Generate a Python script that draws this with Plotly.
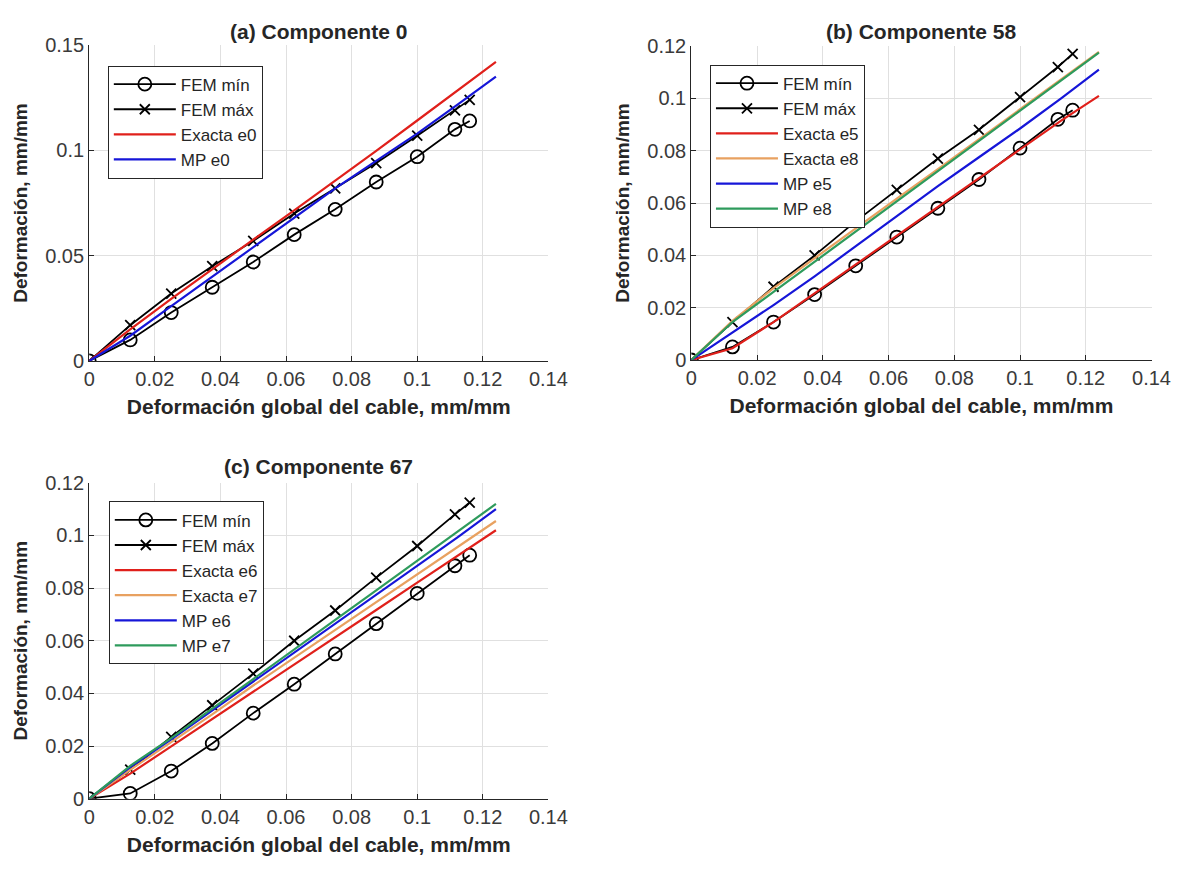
import plotly.graph_objects as go

# ---------------- data ----------------
fem_x = [0, 0.0125, 0.025, 0.0375, 0.05, 0.0625, 0.075, 0.0875, 0.1, 0.1115, 0.116]
exact_x = [0, 0.0125, 0.025, 0.0375, 0.05, 0.0625, 0.075, 0.0875, 0.1, 0.1125, 0.124]

# (a) Componente 0
a_fem_min = [0, 0.010, 0.023, 0.035, 0.047, 0.060, 0.072, 0.085, 0.097, 0.110, 0.114]
a_fem_max = [0, 0.017, 0.032, 0.045, 0.057, 0.070, 0.082, 0.094, 0.107, 0.119, 0.124]
a_exacta_e0 = [0, 0.015, 0.0295, 0.0437, 0.0576, 0.0715, 0.0855, 0.0998, 0.1142, 0.1286, 0.142]
a_mp_e0 = [0, 0.012, 0.026, 0.040, 0.054, 0.068, 0.082, 0.095, 0.108, 0.122, 0.135]

# (b) Componente 58
b_fem_min = [0, 0.005, 0.0145, 0.025, 0.036, 0.047, 0.058, 0.069, 0.081, 0.092, 0.0955]
b_fem_max = [0, 0.0145, 0.028, 0.040, 0.053, 0.065, 0.077, 0.088, 0.1005, 0.112, 0.117]
b_exacta_e5 = [0, 0.0045, 0.0145, 0.0255, 0.0365, 0.0475, 0.0585, 0.0695, 0.0805, 0.0915, 0.101]
b_exacta_e8 = [0, 0.015, 0.0275, 0.039, 0.0505, 0.0617, 0.073, 0.0845, 0.0958, 0.1072, 0.1178]
b_mp_e5 = [0, 0.0105, 0.021, 0.032, 0.0435, 0.055, 0.0665, 0.0775, 0.0885, 0.100, 0.111]
b_mp_e8 = [0, 0.0145, 0.026, 0.0376, 0.049, 0.0607, 0.0722, 0.0838, 0.0953, 0.1069, 0.1175]

# (c) Componente 67
c_fem_min = [0, 0.002, 0.0105, 0.021, 0.0325, 0.0435, 0.055, 0.0665, 0.078, 0.0885, 0.0925]
c_fem_max = [0, 0.011, 0.0235, 0.0355, 0.0475, 0.060, 0.0715, 0.084, 0.096, 0.108, 0.1125]
c_exacta_e6 = [0, 0.0095, 0.0199, 0.0302, 0.0406, 0.051, 0.0614, 0.0717, 0.0821, 0.0925, 0.102]
c_exacta_e7 = [0, 0.011, 0.0215, 0.032, 0.043, 0.0535, 0.064, 0.0745, 0.085, 0.0955, 0.1055]
c_mp_e6 = [0, 0.012, 0.0225, 0.0335, 0.0445, 0.0555, 0.0665, 0.0775, 0.0885, 0.0995, 0.110]
c_mp_e7 = [0, 0.0125, 0.023, 0.0343, 0.0455, 0.0567, 0.0679, 0.0791, 0.0903, 0.1015, 0.112]

titles = ["(a) Componente 0", "(b) Componente 58", "(c) Componente 67"]
x_title = "Deformación global del cable, mm/mm"
y_title = "Deformación, mm/mm"

# ---------------- style ----------------
FONT = "Arial, Liberation Sans, sans-serif"
RED = "#E0201B"
ORANGE = "#E8A160"
BLUE = "#1616D8"
GREEN = "#2E9B5C"
BLACK = "#000000"
W, H = 1195, 875

fig = go.Figure()


def fem(x, y, name, sym, xa, ya, leg):
    fig.add_trace(go.Scatter(
        x=x, y=y, name=name, mode="lines+markers", xaxis=xa, yaxis=ya, legend=leg,
        line=dict(color=BLACK, width=1.8),
        marker=dict(symbol=sym, size=13 if "circle" in sym else 10, color=BLACK,
                    line=dict(color=BLACK, width=1.8))))


def curve(x, y, name, color, xa, ya, leg):
    fig.add_trace(go.Scatter(
        x=x, y=y, name=name, mode="lines", xaxis=xa, yaxis=ya, legend=leg,
        line=dict(color=color, width=2.2)))


# (a)
fem(fem_x, a_fem_min, "FEM mín", "circle-open", "x", "y", "legend")
fem(fem_x, a_fem_max, "FEM máx", "x-thin-open", "x", "y", "legend")
curve(exact_x, a_exacta_e0, "Exacta e0", RED, "x", "y", "legend")
curve(exact_x, a_mp_e0, "MP e0", BLUE, "x", "y", "legend")
# (b)
fem(fem_x, b_fem_min, "FEM mín", "circle-open", "x2", "y2", "legend2")
fem(fem_x, b_fem_max, "FEM máx", "x-thin-open", "x2", "y2", "legend2")
curve(exact_x, b_exacta_e5, "Exacta e5", RED, "x2", "y2", "legend2")
curve(exact_x, b_exacta_e8, "Exacta e8", ORANGE, "x2", "y2", "legend2")
curve(exact_x, b_mp_e5, "MP e5", BLUE, "x2", "y2", "legend2")
curve(exact_x, b_mp_e8, "MP e8", GREEN, "x2", "y2", "legend2")
# (c)
fem(fem_x, c_fem_min, "FEM mín", "circle-open", "x3", "y3", "legend3")
fem(fem_x, c_fem_max, "FEM máx", "x-thin-open", "x3", "y3", "legend3")
curve(exact_x, c_exacta_e6, "Exacta e6", RED, "x3", "y3", "legend3")
curve(exact_x, c_exacta_e7, "Exacta e7", ORANGE, "x3", "y3", "legend3")
curve(exact_x, c_mp_e6, "MP e6", BLUE, "x3", "y3", "legend3")
curve(exact_x, c_mp_e7, "MP e7", GREEN, "x3", "y3", "legend3")


def px_x(p):
    return p / W


def px_y(p):
    return 1 - p / H


TICKFONT = dict(family=FONT, size=20, color="#3A3A3A")


def xaxis(l, r, anchor):
    return dict(domain=[px_x(l), px_x(r)], anchor=anchor, range=[0, 0.14],
                tickvals=[0, 0.02, 0.04, 0.06, 0.08, 0.1, 0.12, 0.14],
                ticktext=["0", "0.02", "0.04", "0.06", "0.08", "0.1", "0.12", "0.14"],
                showline=True, linecolor="#262626", linewidth=1.2,
                ticks="inside", ticklen=5, tickcolor="#262626",
                showgrid=True, gridcolor="#E0E0E0", gridwidth=1, zeroline=False,
                tickfont=TICKFONT,
                title=dict(text=x_title, standoff=10,
                           font=dict(family=FONT, size=21, color="#262626", weight="bold")))


def yaxis(t, b, anchor, top, step, labels):
    vals = [i * step for i in range(len(labels))]
    return dict(domain=[px_y(b), px_y(t)], anchor=anchor, range=[0, top],
                tickvals=vals, ticktext=labels,
                showline=True, linecolor="#262626", linewidth=1.2,
                ticks="inside", ticklen=5, tickcolor="#262626",
                showgrid=True, gridcolor="#E0E0E0", gridwidth=1, zeroline=False,
                tickfont=TICKFONT,
                title=dict(text=y_title, standoff=12,
                           font=dict(family=FONT, size=19, color="#262626", weight="bold")))


lab15 = ["0", "0.05", "0.1", "0.15"]
lab12 = ["0", "0.02", "0.04", "0.06", "0.08", "0.1", "0.12"]


def legend(xp, yp):
    return dict(x=px_x(xp), y=px_y(yp), xanchor="left", yanchor="top",
                bgcolor="white", bordercolor="#262626", borderwidth=1,
                font=dict(family=FONT, size=17, color="#262626"),
                itemwidth=62, tracegroupgap=0, itemclick=False)


fig.update_layout(
    width=W, height=H,
    margin=dict(l=0, r=0, t=0, b=0),
    paper_bgcolor="white", plot_bgcolor="white",
    xaxis=xaxis(85, 554, "y"),
    yaxis=yaxis(35, 359, "x", 0.15, 0.05, lab15),
    xaxis2=xaxis(700, 1170, "y2"),
    yaxis2=yaxis(36, 358, "x2", 0.12, 0.02, lab12),
    xaxis3=xaxis(85, 554, "y3"),
    yaxis3=yaxis(484, 808, "x3", 0.12, 0.02, lab12),
    legend=legend(104, 56),
    legend2=legend(719, 55),
    legend3=legend(105, 503),
    showlegend=True,
)

for text, cx, cy in [(titles[0], (85 + 554) / 2, 21), (titles[1], (700 + 1170) / 2, 21),
                     (titles[2], (85 + 554) / 2, 467)]:
    fig.add_annotation(text=text, x=px_x(cx), y=px_y(cy), xref="paper", yref="paper",
                       xanchor="center", yanchor="middle", showarrow=False,
                       font=dict(family=FONT, size=21, color="#262626", weight="bold"))

fig.write_html("out.html")
